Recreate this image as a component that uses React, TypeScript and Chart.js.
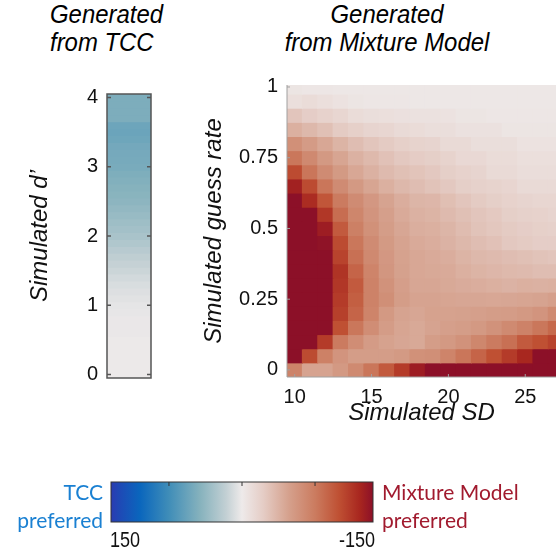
import React, { useEffect, useRef } from 'react';
import { Chart, registerables } from 'chart.js';

Chart.register(...registerables);
Chart.defaults.font.family = '"Liberation Sans", Arial, sans-serif';
Chart.defaults.color = '#111111';

// ---------- data ----------
const SD_VALUES = [10, 11, 12, 13, 14, 15, 16, 17, 18, 19, 20, 21, 22, 23, 24, 25, 26, 27];
const SD_TICKS = [10, 15, 20, 25];
const GUESS_RATES = [0, 0.05, 0.1, 0.15, 0.2, 0.25, 0.3, 0.35, 0.4, 0.45, 0.5, 0.55, 0.6, 0.65, 0.7, 0.75, 0.8, 0.85, 0.9, 0.95, 1];
const GUESS_STEP = 0.05;
const GUESS_TICKS = [0, 0.25, 0.5, 0.75, 1];
const GUESS_TICK_LABELS = ['0', '0.25', '0.5', '0.75', '1'];

const DPRIME_VALUES = [0, 0.1, 0.2, 0.3, 0.4, 0.5, 0.6, 0.7, 0.8, 0.9, 1, 1.1, 1.2, 1.3, 1.4, 1.5, 1.6, 1.7, 1.8, 1.9, 2, 2.1, 2.2, 2.3, 2.4, 2.5, 2.6, 2.7, 2.8, 2.9, 3, 3.1, 3.2, 3.3, 3.4, 3.5, 3.6, 3.7, 3.8, 3.9, 4];
const DPRIME_STEP = 0.1;
const DPRIME_TICKS = [0, 1, 2, 3, 4];
const STRIP_LABEL = 'TCC';
// model comparison value per simulated d' (positive = TCC preferred)
const TCC_DIFF = [1, 1, 1, 1, 1, 1, 2, 2, 2, 3, 4, 6, 8, 10, 13, 16, 19, 22, 26, 30, 34, 37, 40, 43, 46, 49, 51, 53, 55, 57, 60, 61, 62, 63, 66, 68, 67, 58, 58, 58, 58];

// model comparison value per (guess rate row, SD column); negative = Mixture Model preferred
const MM_DIFF = [
  /* g=0.00 */ [-85, -57, -57, -66, -79, -96, -115, -135, -155, -172, -180, -180, -180, -180, -180, -180, -180, -180],
  /* g=0.05 */ [-168, -125, -87, -70, -62, -62, -62, -65, -73, -75, -84, -96, -108, -122, -135, -148, -165, -178],
  /* g=0.10 */ [-180, -180, -135, -92, -76, -64, -58, -55, -53, -62, -66, -72, -82, -92, -100, -115, -122, -130],
  /* g=0.15 */ [-180, -180, -168, -122, -95, -76, -63, -56, -53, -57, -60, -62, -66, -72, -79, -86, -95, -105],
  /* g=0.20 */ [-180, -180, -176, -132, -108, -84, -66, -57, -55, -58, -58, -59, -60, -62, -63, -66, -70, -79],
  /* g=0.25 */ [-180, -180, -180, -135, -112, -86, -75, -62, -57, -57, -56, -55, -55, -54, -55, -56, -57, -60],
  /* g=0.30 */ [-180, -180, -180, -138, -115, -86, -72, -61, -55, -55, -53, -51, -50, -48, -46, -48, -47, -48],
  /* g=0.35 */ [-180, -180, -180, -140, -108, -84, -68, -59, -54, -53, -52, -48, -45, -43, -41, -40, -38, -38],
  /* g=0.40 */ [-180, -180, -178, -130, -100, -80, -67, -58, -54, -52, -50, -45, -42, -40, -38, -36, -34, -32],
  /* g=0.45 */ [-180, -180, -163, -125, -95, -78, -65, -57, -52, -50, -46, -42, -38, -35, -30, -28, -26, -26],
  /* g=0.50 */ [-180, -180, -155, -115, -88, -73, -62, -55, -49, -48, -44, -39, -34, -31, -28, -26, -24, -23],
  /* g=0.55 */ [-180, -172, -138, -102, -83, -70, -60, -52, -47, -45, -40, -36, -32, -29, -25, -23, -22, -20],
  /* g=0.60 */ [-180, -145, -118, -92, -78, -67, -57, -50, -44, -43, -37, -32, -28, -25, -22, -20, -18, -18],
  /* g=0.65 */ [-152, -125, -96, -78, -66, -56, -48, -42, -38, -34, -30, -25, -23, -21, -19, -15, -15, -15],
  /* g=0.70 */ [-125, -96, -78, -65, -54, -47, -40, -36, -33, -30, -25, -22, -20, -15, -15, -12, -12, -12],
  /* g=0.75 */ [-95, -80, -66, -56, -47, -41, -35, -30, -27, -25, -21, -16, -16, -13, -13, -10, -10, -10],
  /* g=0.80 */ [-74, -64, -54, -45, -38, -32, -28, -24, -21, -20, -15, -15, -11, -11, -11, -7, -7, -7],
  /* g=0.85 */ [-48, -42, -36, -28, -24, -20, -18, -15, -13, -11, -11, -8, -8, -8, -5, -5, -5, -5],
  /* g=0.90 */ [-32, -26, -22, -18, -13, -11, -10, -9, -8, -8, -7, -5, -5, -4, -4, -4, -4, -4],
  /* g=0.95 */ [-10, -13, -10, -7, -5, -4, -4, -4, -3, -3, -3, -3, -3, -3, -3, -3, -3, -3],
  /* g=1.00 */ [-5, -4, -4, -3, -3, -3, -3, -3, -3, -3, -3, -3, -3, -3, -3, -3, -3, -3],
];

// colour scale
const CB_LIMIT = 165;
const CB_TICKS = [92, 0, -92];
const CB_LEFT_LABEL = '150';
const CB_RIGHT_LABEL = '-150';
const CMAP_POS = [0, 0.03, 0.11, 0.22, 0.34, 0.44, 0.5, 0.58, 0.68, 0.78, 0.87, 0.95, 1];
const CMAP_COLORS = ['#2a3cb1', '#1f48b5', '#0a66bd', '#3f8db8', '#86b2bd', '#c3d0d4', '#eeeaea', '#e5cdc6', '#d5a08c', '#cb7b5f', '#bf5033', '#a8261f', '#8c1028'];

function hexToRgb(h: string): number[] {
  const n = parseInt(h.slice(1), 16);
  return [(n >> 16) & 255, (n >> 8) & 255, n & 255];
}

function colorFor(v: number): string {
  const p = Math.min(1, Math.max(0, 0.5 - v / (2 * CB_LIMIT)));
  for (let i = 1; i < CMAP_POS.length; i++) {
    if (p <= CMAP_POS[i]) {
      const t = (p - CMAP_POS[i - 1]) / (CMAP_POS[i] - CMAP_POS[i - 1]);
      const a = hexToRgb(CMAP_COLORS[i - 1]);
      const b = hexToRgb(CMAP_COLORS[i]);
      const c = a.map((x, k) => Math.round(x + (b[k] - x) * t));
      return `rgb(${c[0]},${c[1]},${c[2]})`;
    }
  }
  return CMAP_COLORS[CMAP_COLORS.length - 1];
}

// ---------- plugins ----------
function makeFrame(cfg: { color: string; lineWidth: number; box: boolean; len: number; xTicks: number[]; yTicks: number[]; xTop?: boolean }) {
  return {
    id: 'frame',
    afterDatasetsDraw(chart: any) {
      const { ctx, chartArea: a } = chart;
      ctx.save();
      ctx.strokeStyle = cfg.color;
      ctx.lineWidth = cfg.lineWidth;
      if (cfg.box) {
        ctx.strokeRect(a.left, a.top, a.right - a.left, a.bottom - a.top);
      } else {
        ctx.beginPath();
        ctx.moveTo(a.left, a.top);
        ctx.lineTo(a.left, a.bottom);
        ctx.lineTo(a.right, a.bottom);
        ctx.stroke();
      }
      ctx.beginPath();
      cfg.xTicks.forEach((v) => {
        const px = chart.scales.x.getPixelForValue(v);
        if (cfg.xTop) {
          ctx.moveTo(px, a.top);
          ctx.lineTo(px, a.top + cfg.len);
        } else {
          ctx.moveTo(px, a.bottom);
          ctx.lineTo(px, a.bottom - cfg.len);
        }
      });
      cfg.yTicks.forEach((v) => {
        const py = chart.scales.y.getPixelForValue(v);
        ctx.moveTo(a.left, py);
        ctx.lineTo(a.left + cfg.len, py);
        if (cfg.box) {
          ctx.moveTo(a.right, py);
          ctx.lineTo(a.right - cfg.len, py);
        }
      });
      ctx.stroke();
      ctx.restore();
    },
  };
}

const gradientPlugin = {
  id: 'cbGradient',
  beforeDatasetsDraw(chart: any) {
    const { ctx, chartArea: a } = chart;
    const x = chart.scales.x;
    const x0 = x.getPixelForValue(CB_LIMIT);
    const x1 = x.getPixelForValue(-CB_LIMIT);
    const g = ctx.createLinearGradient(x0, 0, x1, 0);
    CMAP_POS.forEach((p, i) => g.addColorStop(p, CMAP_COLORS[i]));
    ctx.save();
    ctx.fillStyle = g;
    ctx.fillRect(a.left, a.top, a.right - a.left, a.bottom - a.top);
    ctx.restore();
  },
};

// ---------- configs ----------
const noInteract = {
  responsive: false,
  animation: false as const,
  events: [] as any[],
};

function mixtureConfig(): any {
  const data: any[] = [];
  const colors: string[] = [];
  GUESS_RATES.forEach((g, r) => {
    SD_VALUES.forEach((sd, c) => {
      data.push({ x: sd, y: [g - GUESS_STEP / 2, g + GUESS_STEP / 2] });
      colors.push(colorFor(MM_DIFF[r][c]));
    });
  });
  return {
    type: 'bar',
    data: {
      datasets: [{ data, backgroundColor: colors, borderWidth: 0, barPercentage: 1, categoryPercentage: 1, inflateAmount: 0.5, clip: 0 }],
    },
    options: {
      ...noInteract,
      layout: { padding: { top: 15, right: 4, left: 0, bottom: 0 } },
      plugins: { legend: { display: false }, tooltip: { enabled: false } },
      scales: {
        x: {
          type: 'linear',
          offset: false,
          min: 9.5,
          max: 27,
          grid: { display: false, drawTicks: false, offset: false },
          border: { display: false },
          afterBuildTicks: (s: any) => { s.ticks = SD_TICKS.map((v) => ({ value: v })); },
          afterFit: (s: any) => { s.height = 58; s.paddingLeft = 0; s.paddingRight = 0; },
          ticks: { padding: 8, font: { size: 20 }, maxRotation: 0, autoSkip: false, callback: (v: any) => String(v) },
          title: { display: true, text: 'Simulated SD', font: { size: 24, style: 'italic' }, padding: { top: 0, bottom: 7 }, color: '#111' },
        },
        y: {
          type: 'linear',
          min: -0.025,
          max: 1.007,
          grid: { display: false, drawTicks: false },
          border: { display: false },
          afterBuildTicks: (s: any) => { s.ticks = GUESS_TICKS.map((v) => ({ value: v })); },
          afterFit: (s: any) => { s.width = 97; s.paddingTop = 0; s.paddingBottom = 0; },
          ticks: { padding: 9, font: { size: 20 }, autoSkip: false, callback: (v: any) => GUESS_TICK_LABELS[GUESS_TICKS.indexOf(v)] },
          title: { display: true, text: 'Simulated guess rate', font: { size: 24, style: 'italic' }, padding: { top: 10, bottom: 0 }, color: '#111' },
        },
      },
    },
    plugins: [makeFrame({ color: '#a0a0a0', lineWidth: 1, box: false, len: 3, xTicks: SD_TICKS, yTicks: GUESS_TICKS })],
  };
}

function tccConfig(): any {
  const data = DPRIME_VALUES.map((d) => ({ x: STRIP_LABEL, y: [d - DPRIME_STEP / 2, d + DPRIME_STEP / 2] }));
  const colors = TCC_DIFF.map((v) => colorFor(v));
  return {
    type: 'bar',
    data: {
      labels: [STRIP_LABEL],
      datasets: [{ data, backgroundColor: colors, borderWidth: 0, barPercentage: 1, categoryPercentage: 1, inflateAmount: 0.5, clip: 0 }],
    },
    options: {
      ...noInteract,
      layout: { padding: { top: 14, right: 9, left: 0, bottom: 12 } },
      plugins: { legend: { display: false }, tooltip: { enabled: false } },
      scales: {
        x: { type: 'category', display: false },
        y: {
          type: 'linear',
          min: -0.05,
          max: 4.05,
          grid: { display: false, drawTicks: false },
          border: { display: false },
          afterBuildTicks: (s: any) => { s.ticks = DPRIME_TICKS.map((v) => ({ value: v })); },
          afterFit: (s: any) => { s.width = 107; s.paddingTop = 0; s.paddingBottom = 0; },
          ticks: { padding: 9, font: { size: 20 }, autoSkip: false, callback: (v: any) => String(v) },
          title: { display: true, text: 'Simulated d\u2019', font: { size: 24, style: 'italic' }, padding: { top: 26, bottom: 0 }, color: '#111' },
        },
      },
    },
    plugins: [makeFrame({ color: '#555555', lineWidth: 1.5, box: true, len: 4, xTicks: [], yTicks: DPRIME_TICKS })],
  };
}

function colorbarConfig(): any {
  return {
    type: 'bar',
    data: { datasets: [] },
    options: {
      ...noInteract,
      layout: { padding: { top: 12, right: 17, left: 11, bottom: 8 } },
      plugins: { legend: { display: false }, tooltip: { enabled: false } },
      scales: {
        x: { type: 'linear', offset: false, min: -CB_LIMIT, max: CB_LIMIT, reverse: true, display: false },
        y: { type: 'linear', min: 0, max: 1, display: false },
      },
    },
    plugins: [gradientPlugin, makeFrame({ color: '#333333', lineWidth: 1, box: true, len: 4, xTicks: CB_TICKS, yTicks: [], xTop: true })],
  };
}

// ---------- components ----------
function ChartBox(props: { left: number; top: number; width: number; height: number; make: () => any }) {
  const ref = useRef<HTMLCanvasElement>(null);
  useEffect(() => {
    const chart = new Chart(ref.current as HTMLCanvasElement, props.make());
    return () => chart.destroy();
  }, []);
  return (
    <canvas
      ref={ref}
      width={props.width}
      height={props.height}
      style={{ position: 'absolute', left: props.left, top: props.top, width: props.width, height: props.height }}
    />
  );
}

const titleFont: React.CSSProperties = {
  fontFamily: '"Liberation Sans", Arial, sans-serif',
  fontStyle: 'italic',
  fontSize: 26,
  lineHeight: '28px',
  color: '#000',
  whiteSpace: 'nowrap',
};

const lato: React.CSSProperties = {
  fontFamily: 'Lato, "Open Sans", sans-serif',
  fontSize: 21,
  lineHeight: '28px',
  whiteSpace: 'nowrap',
};

export default function App() {
  return (
    <div style={{ position: 'absolute', left: 0, top: 0, width: 560, height: 554, background: '#fff', overflow: 'hidden' }}>
      <div style={{ ...titleFont, position: 'absolute', left: 50, top: 0, transform: 'scaleX(0.92)', transformOrigin: 'left top' }}>
        <div>Generated</div>
        <div>from TCC</div>
      </div>
      <div style={{ ...titleFont, position: 'absolute', left: 187, width: 400, top: 0, textAlign: 'center', transform: 'scaleX(0.92)', transformOrigin: 'center top' }}>
        <div>Generated</div>
        <div>from Mixture Model</div>
      </div>

      <ChartBox left={0} top={80} width={160} height={310} make={tccConfig} />
      <ChartBox left={190} top={70} width={370} height={365} make={mixtureConfig} />
      <ChartBox left={100} top={470} width={290} height={60} make={colorbarConfig} />

      <div style={{ ...lato, position: 'absolute', left: 0, width: 103, top: 478, textAlign: 'right', color: '#1a80d2' }}>
        <div>TCC</div>
        <div>preferred</div>
      </div>
      <div style={{ ...lato, position: 'absolute', left: 382, top: 478, color: '#a11a2e' }}>
        <div>Mixture Model</div>
        <div>preferred</div>
      </div>
      <div style={{ position: 'absolute', left: 110, top: 527, fontFamily: '"Liberation Sans", Arial, sans-serif', fontSize: 22, lineHeight: '26px', color: '#111', transform: 'scaleX(0.82)', transformOrigin: 'left top' }}>
        {CB_LEFT_LABEL}
      </div>
      <div style={{ position: 'absolute', left: 175, width: 200, top: 527, textAlign: 'right', fontFamily: '"Liberation Sans", Arial, sans-serif', fontSize: 22, lineHeight: '26px', color: '#111', transform: 'scaleX(0.82)', transformOrigin: 'right top' }}>
        {CB_RIGHT_LABEL}
      </div>
    </div>
  );
}
